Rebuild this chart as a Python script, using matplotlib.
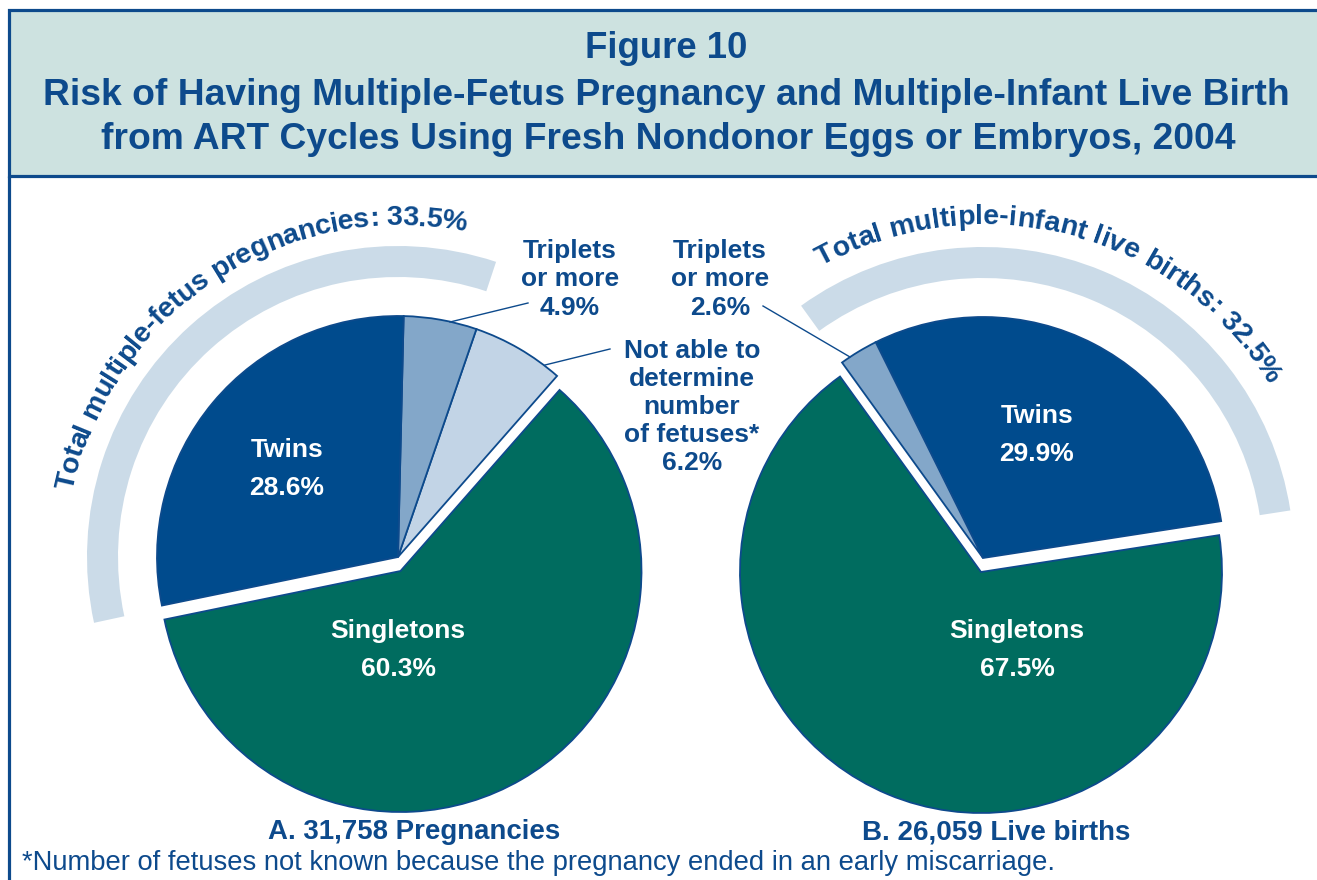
import numpy as np
import matplotlib
matplotlib.use("Agg")
import matplotlib.pyplot as plt
from matplotlib.patches import Wedge, Rectangle
from matplotlib import font_manager as fm
from matplotlib.ft2font import FT2Font

# ---------------- data ----------------
preg_labels = ["Not able to\ndetermine\nnumber\nof fetuses*", "Triplets\nor more", "Twins", "Singletons"]
preg_values = [6.2, 4.9, 28.6, 60.3]
birth_labels = ["Twins", "Triplets\nor more", "Singletons"]
birth_values = [29.9, 2.6, 67.5]
preg_multiple_total = 33.5
birth_multiple_total = 32.5
preg_arc_text = "Total multiple-fetus pregnancies: "
birth_arc_text = "Total multiple-infant live births: "
preg_caption = "A. 31,758 Pregnancies"
birth_caption = "B. 26,059 Live births"
title_lines = ["Figure 10",
               "Risk of Having Multiple-Fetus Pregnancy and Multiple-Infant Live Birth",
               "from ART Cycles Using Fresh Nondonor Eggs or Embryos, 2004"]
footnote = "*Number of fetuses not known because the pregnancy ended in an early miscarriage."

# ---------------- style ----------------
BLUE = "#0d4a8c"
C = {"Twins": "#004b8d", "Singletons": "#006c5f", "Triplets\nor more": "#83a7c9",
     "Not able to\ndetermine\nnumber\nof fetuses*": "#c2d4e6"}
ARC = "#cbdbe8"
TITLE_BG = "#cde2e0"

W, H = 1317, 880
fig = plt.figure(figsize=(W / 100, H / 100), dpi=100)
ax = fig.add_axes([0, 0, 1, 1])
ax.set_xlim(0, W)
ax.set_ylim(0, H)
ax.axis("off")


def Y(y):
    return H - y


names = {f.name for f in fm.fontManager.ttflist}
NARROW = "Liberation Sans Narrow" if "Liberation Sans Narrow" in names else "Liberation Sans"
BOLD_FP = fm.FontProperties(family="Liberation Sans", weight="bold")

renderer = fig.canvas.get_renderer()


def fit_text(t, target_w):
    bb = t.get_window_extent(renderer)
    t.set_fontsize(t.get_fontsize() * target_w / bb.width)


# ---------------- title box ----------------
ax.add_patch(Rectangle((9, Y(176)), 1400, 166, facecolor=TITLE_BG, edgecolor=BLUE, lw=2.3, zorder=1))
ax.plot([9, 9], [Y(176), -5], color=BLUE, lw=2.3, solid_capstyle="butt", zorder=1)

title_pos = [(666, 58, 163), (666, 105, 1252), (668, 149, 1137)]
for line, (cx, by, wd) in zip(title_lines, title_pos):
    t = ax.text(cx, Y(by), line, ha="center", va="baseline", color=BLUE,
                fontsize=24, fontweight="bold", family=NARROW, zorder=3)
    fit_text(t, wd)

# ---------------- pies ----------------
R = 241


def draw_pie(center, values, labels, start, explode_cat, explode_off):
    spans = {}
    a = start
    for v, lab in zip(values, labels):
        span = v / 100 * 360
        cx, cy = center
        if lab == explode_cat:
            cx += explode_off[0]
            cy += explode_off[1]
        ax.add_patch(Wedge((cx, cy), R, a, a + span, facecolor=C[lab], edgecolor=BLUE,
                           lw=1.3, joinstyle="miter", zorder=2))
        spans[lab] = (a, a + span, (cx, cy))
        a += span
    return spans


cL = (398, Y(557))
cR = (983, Y(558))
spL = draw_pie(cL, preg_values, preg_labels, 48.7, "Singletons", (2.5, -14))
spR = draw_pie(cR, birth_values, birth_labels, 8.8, "Singletons", (-2, -14))

# grey arcs for total multiples
a0 = spL["Triplets\nor more"][0] + 0.6
ax.add_patch(Wedge(cL, 311, a0, a0 + preg_multiple_total * 3.6, width=31, facecolor=ARC,
                   edgecolor="none", zorder=1))
a0 = spR["Twins"][0]
ax.add_patch(Wedge(cR, 311, a0, a0 + birth_multiple_total * 3.6, width=31, facecolor=ARC,
                   edgecolor="none", zorder=1))


# ---------------- curved text ----------------
def arc_text(s, center, r, a_start, a_end, size):
    ft = FT2Font(fm.findfont(BOLD_FP))
    ft.set_size(size, 100)
    widths = []
    for ch in s:
        g = ft.load_char(ord(ch))
        widths.append(g.linearHoriAdvance / 65536)
    n = len(s)
    L = r * np.deg2rad(a_start - a_end)
    natural = sum(widths) - widths[0] / 2 - widths[-1] / 2
    sp = (L - natural) / (n - 1)
    pos = 0.0
    for i, ch in enumerate(s):
        if i > 0:
            pos += widths[i - 1] / 2 + widths[i] / 2 + sp
        ang = a_start - np.rad2deg(pos / r)
        x = center[0] + r * np.cos(np.deg2rad(ang))
        y = center[1] + r * np.sin(np.deg2rad(ang))
        if ch != " ":
            ax.text(x, y, ch, rotation=ang - 90, rotation_mode="anchor", ha="center",
                    va="baseline", fontsize=size, fontweight="bold", family="Liberation Sans",
                    color=BLUE, zorder=3)


arc_text(preg_arc_text + f"{preg_multiple_total}%", cL, 332, 167.0, 80.5, 20.5)
arc_text(birth_arc_text + f"{birth_multiple_total}%", cR, 334, 117.5, 33.5, 20.5)


# ---------------- labels ----------------
def multiline(x, y0, text, step, color, size=19):
    for k, line in enumerate(text.split("\n")):
        ax.text(x, Y(y0 + k * step), line, ha="center", va="baseline", color=color,
                fontsize=size, fontweight="bold", family="Liberation Sans", zorder=4)


pv = dict(zip(preg_labels, preg_values))
bv = dict(zip(birth_labels, birth_values))

multiline(287, 456.5, f"Twins\n{pv['Twins']}%", 38, "white")
multiline(398, 637.5, f"Singletons\n{pv['Singletons']}%", 38, "white")
multiline(1037, 422.5, f"Twins\n{bv['Twins']}%", 38, "white")
multiline(1017, 637.5, f"Singletons\n{bv['Singletons']}%", 38, "white")

multiline(570, 257.5, f"Triplets\nor more\n{pv['Triplets\nor more']}%", 28.5, BLUE)
multiline(720, 257.5, f"Triplets\nor more\n{bv['Triplets\nor more']}%", 28.5, BLUE)
multiline(692, 357.5, f"{preg_labels[0]}\n{pv[preg_labels[0]]}%", 28, BLUE)

# leader lines
for (x1, y1), (x2, y2) in [((450, 322), (528, 303)),
                           ((545, 365), (610, 349)),
                           ((763, 306), (850, 357))]:
    ax.plot([x1, x2], [Y(y1), Y(y2)], color=BLUE, lw=1.0, zorder=3)

# captions
for txt, cx, wd in [(preg_caption, 414, 292), (birth_caption, 996, 268)]:
    t = ax.text(cx, Y(839), txt, ha="center", va="baseline", color=BLUE, fontsize=20,
                fontweight="bold", family=NARROW, zorder=3)
    fit_text(t, wd)

t = ax.text(22, Y(870), footnote, ha="left", va="baseline", color=BLUE, fontsize=18,
            family=NARROW, zorder=3)
fit_text(t, 1035)

fig.savefig("out.png", dpi=100)
